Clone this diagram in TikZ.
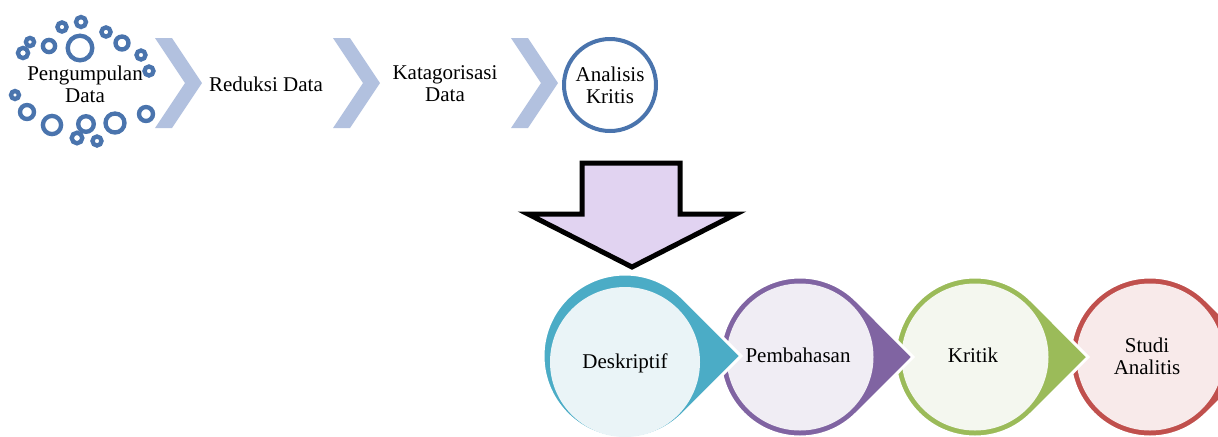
\documentclass[tikz,border=0pt]{standalone}
\usepackage{fontspec}
\setmainfont{Liberation Serif}
\usetikzlibrary{calc}

\definecolor{chevronblue}{HTML}{B2C1DF}
\definecolor{ringblue}{HTML}{4A74AD}
\definecolor{arrowlilac}{HTML}{E1D3F1}
\definecolor{tealring}{HTML}{4BACC6}
\definecolor{tealfill}{HTML}{EAF4F7}
\definecolor{purplering}{HTML}{8064A2}
\definecolor{purplefill}{HTML}{F0EDF4}
\definecolor{greenring}{HTML}{9BBB59}
\definecolor{greenfill}{HTML}{F4F7EF}
\definecolor{redring}{HTML}{C0504D}
\definecolor{redfill}{HTML}{F8EAEA}

\begin{document}
\begin{tikzpicture}[x=0.6pt,y=-0.6pt,
  label text/.style={font=\fontsize{12.6}{13.2}\selectfont, align=center, inner sep=0pt},
  bubble/.style={draw=ringblue, line width=2.6pt},
  analysis circle/.style={circle, draw=ringblue, line width=2.4pt, minimum size=55.2pt,
    font=\fontsize{12.6}{13.2}\selectfont, align=center, inner sep=0pt}]

  % Parameters (pixels of the original layout)
  \def\rowy{357}        % centre line of the lower row
  \def\dropr{80}        % radius of a drop shape
  \def\droptip{113.1}   % centre to tip = r * sqrt 2

  \clip (0,0) rectangle (1218,436);

  % Chevrons between the upper steps
  \foreach \x in {155,333,511}
    \fill[chevronblue] (\x,38) -- ++(17,0) -- ++(30,45) -- ++(-30,45)
      -- ++(-17,0) -- ++(30,-45) -- cycle;

  % Ring of bubbles round the first step (outer radius, stroke taken off)
  \foreach \cx/\cy/\r in {80/48/14.5, 81/22/7.2, 62/27/6.8, 49/46/8.3,
      30/42/6.3, 23/53/7.3, 106/32/6.8, 122/43/8.7, 141/55/6.7,
      149/71/6.7, 15/95/6.2, 27/112/9.2, 52/125/11.3, 77/138/7.5,
      86/124/10, 97/141/6.7, 115/123/11.7, 146/114/9.2}
    \draw[bubble] (\cx,\cy) circle[radius=\r-2.2];

  % Upper steps
  \node[label text] (collect)  at (85,84)  {Pengumpulan\\Data};
  \node[label text] (reduce)   at (266,84) {Reduksi Data};
  \node[label text] (classify) at (445,84) {Katagorisasi\\Data};
  \node[analysis circle] (analysis) at (610,85) {Analisis\\Kritis};

  % Block arrow down to the lower row
  \draw[line width=3pt, line join=miter, fill=arrowlilac]
    (582,163) -- (680,163) -- (680,214) -- (736,214) -- (632,267)
    -- (528,214) -- (582,214) -- cycle;

  % Lower row: drops drawn right to left so each tip lies on the next ring
  \foreach \cx/\ring/\inner in {1150/redring/redfill, 975/greenring/greenfill,
      800/purplering/purplefill} {
    \filldraw[fill=\ring, draw=white, line width=1.8pt]
      (\cx+\droptip,\rowy) -- ($(\cx,\rowy)+(45:\dropr)$)
      arc[start angle=45, end angle=315, radius=\dropr] -- cycle;
    \fill[\inner] (\cx,\rowy) circle[radius=73.5];
  }

  % First drop has a heavier ring at the top
  \filldraw[fill=tealring, draw=white, line width=1.8pt]
    (625+115.9,356) -- ($(625,356)+(45:82)$)
    arc[start angle=45, end angle=315, radius=82] -- cycle;
  \fill[tealfill] (625,362) circle[radius=75];

  \node[label text] (describe) at (625,363) {Deskriptif};
  \node[label text] (discuss)  at (798,355) {Pembahasan};
  \node[label text] (critique) at (973,355) {Kritik};
  \node[label text] (study)    at (1147,356) {Studi\\Analitis};

\end{tikzpicture}
\end{document}
